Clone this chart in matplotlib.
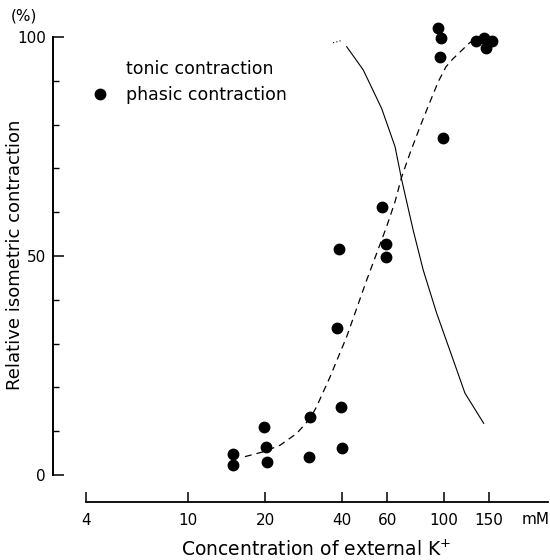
import numpy as np
import matplotlib.pyplot as plt
from matplotlib.lines import Line2D
from matplotlib.ticker import FixedLocator, NullFormatter

plt.rcParams['font.family'] = ['DejaVu Sans']

# phasic contraction, measured points (mM, %)
phasic_k = [15, 15, 19.8, 20.1, 20.3, 29.9, 29.7, 38.8, 38.3, 39.5, 39.8,
            57.4, 59.2, 59.2, 94.8, 97.3, 96.5, 99, 133, 143, 154, 146]
phasic_val = [4.8, 2.4, 11.0, 6.5, 3.0, 13.2, 4.2, 51.5, 33.5, 15.6, 6.1,
              61.1, 52.7, 49.8, 102.1, 99.8, 95.4, 77.0, 99.2, 99.9, 99.2, 97.4]

# dashed fitted curve for phasic contraction
phasic_fit_k = [16.7, 19.7, 22.9, 26.6, 30.0, 31.8, 35.9, 41.7, 49.9, 59.7,
                64.4, 68.4, 73.6, 80.6, 88.2, 95.0, 101.8, 108.7, 126, 133]
phasic_fit_val = [4.2, 5.3, 6.8, 9.5, 12.9, 15.6, 22.4, 31.6, 44.5, 56.7,
                  62.4, 68.1, 73.4, 79.5, 85.2, 89.8, 93.2, 95.1, 98.7, 99.5]

# solid curve for tonic contraction
tonic_k = [36.9, 39.8, 41.7, 48.4, 57.1, 64.4, 68.4, 75.9, 83.0, 93.6,
           108.7, 120.8, 143]
tonic_val = [98.7, 99.2, 97.8, 92.5, 83.7, 75.0, 67.4, 55.8, 46.8, 37.0,
             26.3, 18.7, 11.8]

xticks = [4, 10, 20, 40, 60, 100, 150]

fig = plt.figure(figsize=(5.5, 5.6), dpi=100)
ax = fig.add_axes([53/550, 58/560, 495/550, 482/560])

ax.plot(tonic_k[:2], tonic_val[:2], color='k', lw=0.8, ls=(0, (1, 2)))
ax.plot(tonic_k[2:], tonic_val[2:], color='k', lw=0.8)
ax.plot(phasic_fit_k, phasic_fit_val, color='k', lw=0.9, dashes=(5.5, 4))
ax.plot(phasic_k, phasic_val, 'o', color='k', ms=7.5, ls='none')

ax.set_xscale('log')
ax.set_xlim(2.97, 255)
ax.set_ylim(-6.16, 103.9)

for s in ['top', 'right']:
    ax.spines[s].set_visible(False)
ax.spines['left'].set_bounds(0, 100)
ax.spines['bottom'].set_bounds(4, 255)
ax.spines['left'].set_linewidth(1.4)
ax.spines['bottom'].set_linewidth(1.3)

ax.xaxis.set_major_locator(FixedLocator(xticks))
ax.xaxis.set_minor_formatter(NullFormatter())
ax.xaxis.set_minor_locator(FixedLocator([]))
ax.set_xticklabels([str(t) for t in xticks])
ax.tick_params(axis='x', direction='in', length=7, width=1.1, labelsize=11, pad=8)

ax.set_yticks([0, 50, 100])
ax.set_yticks(np.arange(10, 100, 10), minor=True)
ax.tick_params(axis='y', which='major', direction='in', length=8, width=1.1,
               labelsize=11, pad=5)
ax.tick_params(axis='y', which='minor', direction='in', length=4, width=1.0)

ax.set_ylabel('Relative isometric contraction', fontsize=13)
ax.yaxis.set_label_coords(-0.0768, 0.512)
ax.set_xlabel('Concentration of external K$^{+}$', fontsize=13.5)
ax.xaxis.set_label_coords(0.531, -0.0996)
ax.xaxis.label.set_va('center')
ax.yaxis.label.set_va('center')

ax.text(-0.0586, 1.008, '(%)', transform=ax.transAxes, fontsize=11,
        ha='center', va='center')
ax.text(0.976, -0.037, 'mM', transform=ax.transAxes, fontsize=11,
        ha='center', va='center')

handles = [Line2D([], [], ls='none'),
           Line2D([], [], marker='o', color='k', ls='none', ms=7.5)]
ax.legend(handles, ['tonic contraction', 'phasic contraction'], frameon=False,
          loc='upper left', bbox_to_anchor=(0.078, 0.918), fontsize=12.5,
          handlelength=1.0, handletextpad=1.0, labelspacing=0.5,
          borderaxespad=0, borderpad=0)

fig.savefig('out.png', dpi=100)
